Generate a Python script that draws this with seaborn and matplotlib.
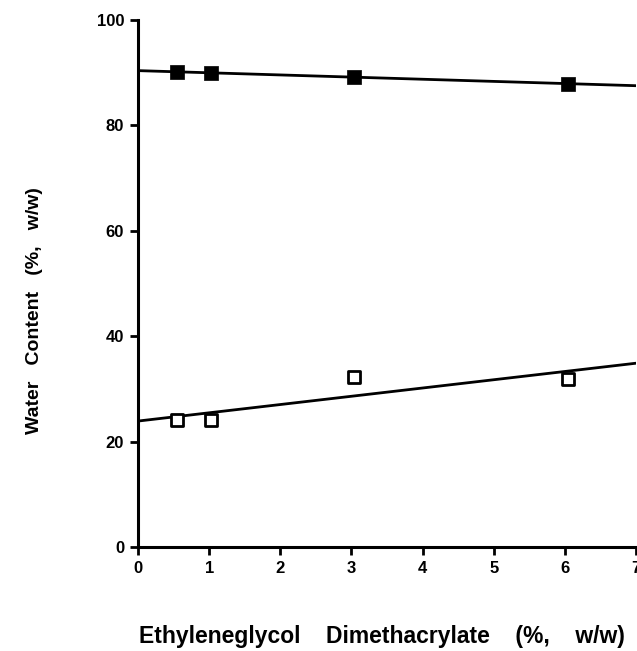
import matplotlib
matplotlib.use("Agg")
import matplotlib.pyplot as plt
import seaborn as sns
import pandas as pd

# Data
egdma = [0.55, 1.03, 3.04, 6.05]
water_filled = [90.2, 89.9, 89.2, 87.9]
water_open = [24.1, 24.1, 32.2, 31.9]
x_ticks = [0, 1, 2, 3, 4, 5, 6, 7]
y_ticks = [0, 20, 40, 60, 80, 100]

sns.set_style("ticks")
plt.rcParams['font.family'] = ['Liberation Sans', 'DejaVu Sans']
plt.rcParams['font.weight'] = 'bold'
plt.rcParams['text.color'] = 'black'
plt.rcParams['axes.labelcolor'] = 'black'
plt.rcParams['xtick.color'] = 'black'
plt.rcParams['ytick.color'] = 'black'

df_f = pd.DataFrame({"x": egdma, "y": water_filled})
df_o = pd.DataFrame({"x": egdma, "y": water_open})

fig = plt.figure(figsize=(6.37, 6.51), dpi=100)
ax = fig.add_axes([0.2166, 0.1598, 0.7819, 0.8095])
ax.set_xlim(0, 7)
ax.set_ylim(0, 100)

line_kws = dict(color="black", lw=2.0)
sns.regplot(data=df_f, x="x", y="y", ax=ax, scatter=False, ci=None,
            truncate=False, line_kws=line_kws)
sns.regplot(data=df_o, x="x", y="y", ax=ax, scatter=False, ci=None,
            truncate=False, line_kws=line_kws)

sns.scatterplot(data=df_f, x="x", y="y", ax=ax, marker="s", s=110,
                color="black", edgecolor="black", linewidth=0.5, zorder=5)
sns.scatterplot(data=df_o, x="x", y="y", ax=ax, marker="s", s=85,
                facecolor="white", edgecolor="black", linewidth=2.0, zorder=5)

ax.set_xlim(0, 7)
ax.set_ylim(0, 100)
ax.set_xticks(x_ticks)
ax.set_yticks(y_ticks)
ax.set_xticklabels([str(v) for v in x_ticks], fontsize=12, fontweight='bold')
ax.set_yticklabels([str(v) for v in y_ticks], fontsize=12, fontweight='bold')
ax.tick_params(axis='both', direction='out', width=2, length=6,
               color='black', labelcolor='black', pad=4)

for s in ["top", "right"]:
    ax.spines[s].set_visible(False)
for s in ["left", "bottom"]:
    ax.spines[s].set_linewidth(2.2)
    ax.spines[s].set_color("black")

ax.set_xlabel("Ethyleneglycol    Dimethacrylate    (%,    w/w)", fontsize=16.5,
              fontweight='bold', color='black')
ax.set_ylabel("Water   Content   (%,   w/w)", fontsize=14, fontweight='bold',
              color='black')
ax.xaxis.set_label_coords(0.49, -0.148)
ax.yaxis.set_label_coords(-0.19, 0.448)

fig.savefig("out.png", dpi=100, facecolor="white")
